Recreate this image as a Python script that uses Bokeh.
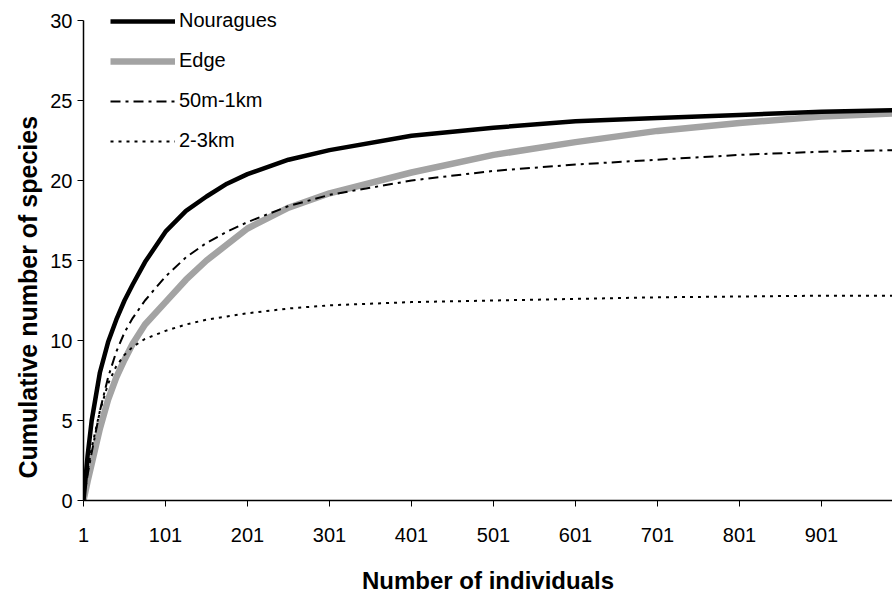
from bokeh.plotting import figure
from bokeh.models import Range1d, FixedTicker, Legend, LegendItem, Title
from bokeh.embed import file_html
from bokeh.resources import INLINE

# x positions (number of individuals)
individuals = [1, 6, 11, 21, 31, 41, 51, 61, 76, 101, 126, 151, 176, 201, 251, 301, 401, 501, 601, 701, 801, 901, 991]
nouragues = [0, 2.8, 5.0, 8.0, 9.9, 11.3, 12.5, 13.5, 14.9, 16.8, 18.1, 19.0, 19.8, 20.4, 21.3, 21.9, 22.8, 23.3, 23.7, 23.9, 24.1, 24.3, 24.4]
edge = [0, 1.2, 2.3, 4.5, 6.3, 7.7, 8.8, 9.8, 11.0, 12.4, 13.8, 15.0, 16.0, 17.0, 18.3, 19.2, 20.5, 21.6, 22.4, 23.1, 23.6, 24.0, 24.2]
m50_1km = [0, 1.6, 3.0, 5.6, 7.7, 9.3, 10.5, 11.4, 12.5, 14.0, 15.2, 16.1, 16.8, 17.4, 18.4, 19.1, 20.0, 20.6, 21.0, 21.3, 21.6, 21.8, 21.9]
km2_3 = [0, 1.8, 3.3, 5.6, 7.3, 8.4, 9.1, 9.6, 10.1, 10.6, 11.0, 11.3, 11.5, 11.7, 12.0, 12.2, 12.4, 12.5, 12.6, 12.7, 12.75, 12.8, 12.8]

x_ticks = [1, 101, 201, 301, 401, 501, 601, 701, 801, 901]
y_ticks = [0, 5, 10, 15, 20, 25, 30]

FONT = "Liberation Sans"

p = figure(output_backend="svg", toolbar_location=None,
           frame_width=809, frame_height=492,
           x_range=Range1d(1, 987.6), y_range=Range1d(0, 30.75))
p.min_border_left = 83
p.min_border_right = 0
p.min_border_top = 8
p.min_border_bottom = 90
p.outline_line_color = None
p.grid.visible = False
p.background_fill_color = "white"
p.border_fill_color = "white"

r_edge = p.line(individuals, edge, line_color="#a3a3a3", line_width=6.5)
r_50 = p.line(individuals, m50_1km, line_color="black", line_width=2, line_dash="10 5 3 5")
r_23 = p.line(individuals, km2_3, line_color="black", line_width=2, line_dash="3 5")
r_nou = p.line(individuals, nouragues, line_color="black", line_width=4.5)

for ax in (p.xaxis, p.yaxis):
    ax.axis_line_color = "black"
    ax.axis_line_width = 1.5
    ax.major_tick_line_color = "black"
    ax.major_tick_in = 0
    ax.major_tick_out = 6
    ax.minor_tick_line_color = None
    ax.major_label_text_font = FONT
    ax.major_label_text_font_size = "20px"
    ax.major_label_text_color = "black"

p.xaxis.ticker = FixedTicker(ticks=x_ticks)
p.yaxis.ticker = FixedTicker(ticks=y_ticks)
p.yaxis.bounds = (0, 30)
p.yaxis.axis_label_standoff = 0
p.xaxis.major_label_standoff = 21
p.yaxis.major_label_standoff = 5

p.xaxis.axis_label = "Number of individuals"
p.xaxis.axis_label_text_font = FONT
p.xaxis.axis_label_text_font_style = "bold"
p.xaxis.axis_label_text_color = "black"
p.xaxis.axis_label_text_font_size = "24px"
p.xaxis.axis_label_standoff = 22

ytitle = Title(text="Cumulative number of species", align="left", offset=22,
               vertical_align="top",
               text_font=FONT, text_font_style="bold", text_font_size="25px",
               text_color="black", standoff=8)
p.add_layout(ytitle, "left")

legend = Legend(items=[
    LegendItem(label="Nouragues", renderers=[r_nou]),
    LegendItem(label="Edge", renderers=[r_edge]),
    LegendItem(label="50m-1km", renderers=[r_50]),
    LegendItem(label="2-3km", renderers=[r_23]),
], location=(27, 348))
legend.padding = 0
legend.margin = 0
legend.spacing = 17
legend.glyph_width = 65
legend.glyph_height = 20
legend.label_height = 20
legend.label_standoff = 4
legend.label_text_font = FONT
legend.label_text_font_size = "20px"
legend.label_text_color = "black"
legend.border_line_alpha = 0
legend.background_fill_alpha = 0
p.add_layout(legend, "center")

open("out.html", "w").write(file_html(p, INLINE))
